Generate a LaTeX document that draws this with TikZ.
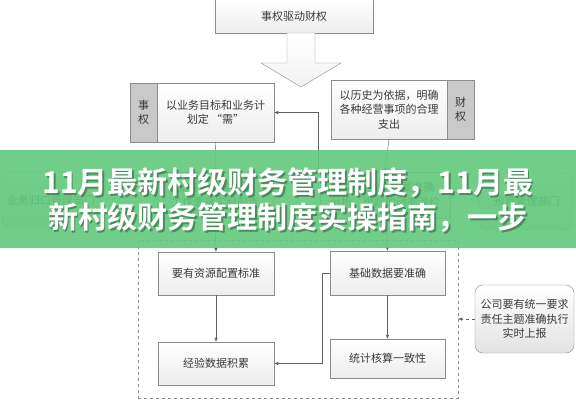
\documentclass[tikz,border=0pt]{standalone}
\usepackage{fontspec}
\setmainfont{Noto Sans CJK SC}[BoldFont={Noto Sans CJK SC Bold}]
\usetikzlibrary{arrows.meta, positioning, calc}
\definecolor{band}{RGB}{98,201,124}
\definecolor{edge}{HTML}{8C8C8C}
\definecolor{strip}{HTML}{C9C9C9}
\definecolor{ink}{HTML}{3A3A3A}

\begin{document}
\begin{tikzpicture}[x=1pt, y=-1pt,
  txt/.style={font=\fontsize{11}{14.5}\selectfont, text=ink, align=center, inner sep=0pt},
  box/.style={draw=edge, top color=white, bottom color=gray!14, txt},
  side/.style={draw=edge, fill=strip, txt},
  dept/.style={draw=edge, rounded corners=8pt, top color=white, bottom color=gray!22, txt},
  arr/.style={draw=ink!80, -{Latex[length=4pt,width=3.5pt]}},
  darr/.style={arr, dashed}]
  \useasboundingbox (0,0) rectangle (576,400);
  \fill[white] (0,0) rectangle (576,400);

  % top of the chart
  \node[box, minimum width=158pt, minimum height=34pt] (top) at (294,16) {事权驱动财权};
  \draw[edge, top color=white, bottom color=gray!10]
    (287,33) -- (315,33) -- (315,63) -- (341,63) -- (301,87) -- (261,63) -- (287,63) -- cycle;

  % 事权 / 财权
  \node[side, minimum width=27pt, minimum height=59pt] (ls) at (143.5,112.5) {事\\权};
  \node[box, minimum width=117pt, minimum height=59pt] (lt) at (215.5,112.5) {以业务目标和业务计\\划定 “需”};
  \node[box, minimum width=116pt, minimum height=59pt] (rt) at (389,109.5) {以历史为依据，明确\\各种经营事项的合理\\支出};
  \node[side, minimum width=27pt, minimum height=59pt] (rs) at (460.5,109.5) {财\\权};

  % middle row (under the band)
  \node[box, minimum width=116pt, minimum height=46pt] (midL) at (215,195) {业务计划要准确\\工作要落实到职责};
  \node[box, minimum width=130pt, minimum height=46pt] (midR) at (385,195) {市场一般数据要准确\\分析、跟踪的动态评价};
  \node[dept, minimum width=98pt, minimum height=56pt] (farL) at (51,200) {业务归口管理部门};
  \node[dept, minimum width=93pt, minimum height=57pt] (farR) at (526.5,201.5) {预算管理部门};

  % lower group
  \node[draw=edge, dashed, minimum width=320pt, minimum height=158pt, inner sep=0pt] (grp) at (298,319) {};
  \node[box, minimum width=116pt, minimum height=43pt] (ziyuan) at (216,273.5) {要有资源配置标准};
  \node[box, minimum width=116pt, minimum height=43pt] (jingyan) at (216,363.5) {经验数据积累};
  \node[box, minimum width=115pt, minimum height=44pt] (jichu) at (387.5,273) {基础数据要准确};
  \node[box, minimum width=115pt, minimum height=39pt] (tongji) at (387.5,358.5) {统计核算一致性};
  \node[dept, minimum width=99pt, minimum height=68pt] (note) at (524.5,319) {公司要有统一要求\\责任主题准确执行\\实时上报};

  % connectors
  \draw[arr] (lt.south) -- (midL.north);
  \draw[arr] (midL.south) -- (ziyuan.north);
  \draw[arr] (rt.south) -- (midR.north);
  \draw[arr] (midR.south) -- (jichu.north);
  \draw[arr] ([xshift=-2pt]midR.north west) |- (lt.east);
  \draw[darr] (farL.east) -- (midL.west);
  \draw[darr] (farR.west) -- (midR.east);
  \draw[arr] (ziyuan.south) -- (jingyan.north);
  \draw[arr] (jichu.south) -- (tongji.north);
  \draw[arr] (jichu.west) -- ++(-8,0) |- (jingyan.east);
  \draw[darr] (note.west) -- (grp.east);

  % green title band
  \fill[band, opacity=0.9] (0,150) rectangle (576,248);
  \node[font=\fontsize{30}{34}\selectfont\bfseries, text=black!60!band, opacity=0.5, inner sep=0pt] at (289.5,184.5) {11月最新村级财务管理制度，11月最};
  \node[font=\fontsize{30}{34}\selectfont\bfseries, text=black!60!band, opacity=0.5, inner sep=0pt] at (289.5,219.5) {新村级财务管理制度实操指南，一步};
  \node[font=\fontsize{30}{34}\selectfont\bfseries, text=white, inner sep=0pt] (title1) at (288,183) {11月最新村级财务管理制度，11月最};
  \node[font=\fontsize{30}{34}\selectfont\bfseries, text=white, inner sep=0pt] (title2) at (288,218) {新村级财务管理制度实操指南，一步};
\end{tikzpicture}
\end{document}
